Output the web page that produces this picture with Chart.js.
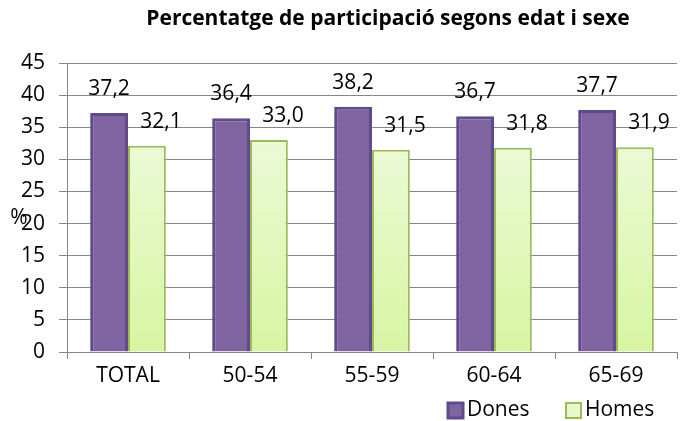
<!DOCTYPE html>
<html>
<head>
<meta charset="utf-8">
<script src="https://cdn.jsdelivr.net/npm/chart.js@4.4.1/dist/chart.umd.min.js"></script>
<style>
    html, body { margin: 0; padding: 0; background: #fff; }
    #wrap { width: 680px; height: 421px; }
</style>
</head>
<body>
<div id="wrap"><canvas id="chart" width="680" height="421"></canvas></div>
<script>
// Chart data
const categories = ['TOTAL', '50-54', '55-59', '60-64', '65-69'];
const dones = [37.2, 36.4, 38.2, 36.7, 37.7];
const homes = [32.1, 33.0, 31.5, 31.8, 31.9];
const seriesNames = ['Dones', 'Homes'];
const yTicks = [0, 5, 10, 15, 20, 25, 30, 35, 40, 45];

const titleText = 'Percentatge de participació segons edat i sexe';
const FONT = '"Open Sans", "DejaVu Sans", sans-serif';

Chart.defaults.font.family = FONT;
Chart.defaults.color = '#000';

function homesFill(ctx) {
    const area = ctx.chart.chartArea;
    if (!area) return '#e4f7c4';
    const g = ctx.chart.ctx.createLinearGradient(0, area.top, 0, area.bottom);
    g.addColorStop(0, '#f3fbe8');
    g.addColorStop(1, '#d7f5a3');
    return g;
}

// Title, axis label, data labels and legend
const extrasPlugin = {
    id: 'extras',
    afterDraw(chart) {
        const ctx = chart.ctx;
        ctx.save();
        ctx.fillStyle = '#000';
        ctx.textBaseline = 'middle';

        // title
        ctx.font = 'bold 21px ' + FONT;
        ctx.textAlign = 'center';
        ctx.fillText(titleText, 388, 19);

        // y axis label
        ctx.font = '21px ' + FONT;
        ctx.fillText('%', 19, 218);

        // value labels
        chart.data.datasets.forEach((ds, i) => {
            const meta = chart.getDatasetMeta(i);
            meta.data.forEach((bar, j) => {
                const txt = ds.data[j].toFixed(1).replace('.', ',');
                const dx = i === 1 ? 14 : 0;
                ctx.fillText(txt, bar.x + dx, bar.y - 24);
            });
        });

        // legend
        const items = [
            { x: 448, fill: '#8064a2', stroke: '#5f4b8b', lw: 3 },
            { x: 566, fill: '#e6f8cc', stroke: '#9bbb59', lw: 2 }
        ];
        ctx.textAlign = 'left';
        items.forEach((it, i) => {
            ctx.fillStyle = it.fill;
            ctx.strokeStyle = it.stroke;
            ctx.lineWidth = it.lw;
            ctx.fillRect(it.x, 403, 15, 15);
            ctx.strokeRect(it.x, 403, 15, 15);
            ctx.fillStyle = '#000';
            ctx.fillText(chart.data.datasets[i].label, it.x + 19, 410);
        });
        ctx.restore();
    }
};

const chart = new Chart(document.getElementById('chart'), {
    type: 'bar',
    data: {
        labels: categories,
        datasets: [
            {
                label: seriesNames[0],
                data: dones,
                backgroundColor: '#8064a2',
                borderColor: '#5f4b8b',
                borderWidth: 3
            },
            {
                label: seriesNames[1],
                data: homes,
                backgroundColor: homesFill,
                borderColor: '#9bbb59',
                borderWidth: 2
            }
        ]
    },
    options: {
        responsive: false,
        animation: false,
        layout: { padding: { top: 63, right: 3, left: 0, bottom: 0 } },
        plugins: {
            legend: { display: false },
            title: { display: false },
            tooltip: { enabled: false }
        },
        datasets: {
            bar: { categoryPercentage: 0.62, barPercentage: 1.0 }
        },
        scales: {
            x: {
                grid: { drawOnChartArea: false, drawTicks: true, tickLength: 7, color: '#868686' },
                border: { color: '#868686', width: 1 },
                ticks: { font: { size: 21 }, padding: 4, color: '#000' },
                afterFit(scale) { scale.height = 69; }
            },
            y: {
                min: 0,
                max: 45,
                afterBuildTicks(scale) { scale.ticks = yTicks.map(v => ({ value: v })); },
                grid: { color: '#868686', tickLength: 8 },
                border: { color: '#868686', width: 1 },
                ticks: { font: { size: 21 }, padding: 14, color: '#000' },
                afterFit(scale) { scale.width = 67; }
            }
        }
    },
    plugins: [extrasPlugin]
});
</script>
</body>
</html>
